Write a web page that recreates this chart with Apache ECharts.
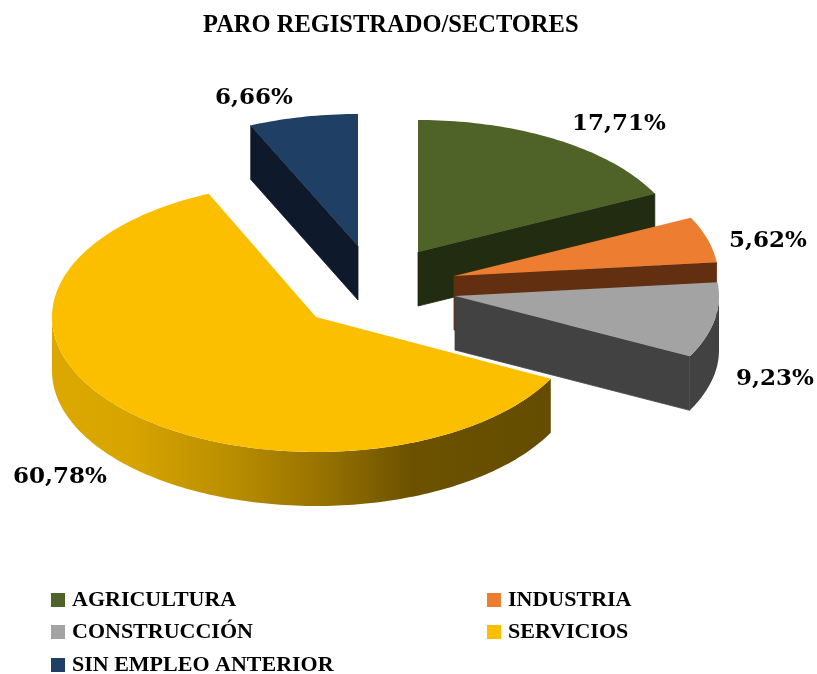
<!DOCTYPE html>
<html><head><meta charset="utf-8">
<style>html,body{margin:0;padding:0;background:#fff}#c{width:817px;height:674px}</style>
<script src="https://cdn.jsdelivr.net/npm/echarts@6/dist/echarts.min.js"></script>
</head><body><div id="c"></div>
<script>
var chartTitle = 'PARO REGISTRADO/SECTORES';
var categories = ['AGRICULTURA','INDUSTRIA','CONSTRUCCIÓN','SERVICIOS','SIN EMPLEO ANTERIOR'];
var values = [17.71, 5.62, 9.23, 60.78, 6.66];

var topColors = ['#4f6228','#ed7d31','#a3a3a3','#fbbf00','#203f64'];
var faceColors = ['#212c11','#622f10','#424242','#6a5000','#0e1a2b'];
var apexX = [418, 454, 455, 316, 358];
var apexY = [252, 276, 296, 317, 246];
var radiusX = 264, radiusY = [132, 132, 132, 135, 132], depth = 54;
var labelX = [619, 768, 775, 60, 254];
var labelY = [124, 241, 379, 477, 98];
var drawOrder = [1, 2, 3, 4, 0];
var legendPos = [[51,589],[487,589],[51,621],[487,621],[51,654]];
var FONT = '"Liberation Serif"';
var LABEL_FONT = '"DejaVu Serif"';

var total = values.reduce(function(a,b){return a+b;},0);
var starts = [], acc = 0;
values.forEach(function(v){ starts.push(acc); acc += v; });
function rad(v){ return v/total*2*Math.PI; }

function pt(i, t, dy){
  return [apexX[i] + radiusX*Math.sin(t), apexY[i] - radiusY[i]*Math.cos(t) + (dy||0)];
}
function arc(i, a, b, dy){
  var pts = [], n = Math.max(2, Math.ceil(Math.abs(b-a)/0.02));
  for (var k=0;k<=n;k++) pts.push(pt(i, a+(b-a)*k/n, dy));
  return pts;
}
function renderSlice(i){
  var a = rad(starts[i]), b = rad(starts[i]+values[i]);
  var kids = [];
  var ax = apexX[i], ay = apexY[i];
  var facePts = null;
  if (Math.sin(b) > 0 && b < Math.PI*0.9) {
    var e = pt(i,b);
    facePts = [[ax,ay],e,[e[0],e[1]+depth],[ax,ay+depth]];
  } else if (a > Math.PI*1.5 && (b-a) < Math.PI/2) {
    var s = pt(i,a);
    facePts = [[ax,ay],s,[s[0],s[1]+depth],[ax,ay+depth]];
  }
  var wa = Math.max(a, Math.PI/2), wb = Math.min(b, Math.PI*1.5);
  if (wb > wa) {
    var wall = arc(i,wa,wb,0).concat(arc(i,wb,wa,depth));
    var fill = faceColors[i];
    if (i === 3) {
      fill = new echarts.graphic.LinearGradient(0,0,1,0,[
        {offset:0,color:'#dca800'},{offset:0.15,color:'#d8a500'},{offset:0.35,color:'#bb8f00'},
        {offset:0.55,color:'#957100'},{offset:0.72,color:'#6c5200'},{offset:1,color:'#644c00'}]);
    }
    kids.push({type:'polygon',shape:{points:wall},style:{fill:fill}});
  }
  if (facePts) kids.push({type:'polygon',shape:{points:facePts},style:{fill:faceColors[i],stroke:faceColors[i],lineWidth:0.8}});
  kids.push({type:'polygon',shape:{points:[[ax,ay]].concat(arc(i,a,b,0))},style:{fill:topColors[i]}});
  return {type:'group',children:kids};
}

var series = categories.map(function(name,i){
  return {
    name:name, type:'custom', coordinateSystem:'none', silent:true,
    z: 2 + drawOrder[i],
    itemStyle:{color:topColors[i]},
    data:[[values[i]]],
    renderItem:function(){ return renderSlice(i); }
  };
});
series.push({
  name:'labels', type:'custom', coordinateSystem:'none', silent:true, z:20,
  data: values.map(function(v,i){return [v,i];}),
  renderItem:function(p,api){
    var i = api.value(1);
    return {type:'text',style:{
      x:labelX[i],y:labelY[i],text:values[i].toFixed(2).replace('.',',')+'%',
      fill:'#000',align:'center',verticalAlign:'middle',
      font:'bold 23px '+LABEL_FONT}};
  }
});

var legends = categories.map(function(name,i){
  return {
    left:legendPos[i][0], top:legendPos[i][1], data:[name], selectedMode:false,
    icon:'rect', itemWidth:14, itemHeight:14, padding:0,
    textStyle:{fontFamily:FONT,fontWeight:'bold',fontSize:22,color:'#000',padding:[0,0,0,2]}
  };
});

var chart = echarts.init(document.getElementById('c'),null,{renderer:'canvas'});
chart.setOption({
  animation:false,
  backgroundColor:'#fff',
  title:{text:chartTitle,left:203,top:13,padding:0,
    textStyle:{fontFamily:FONT,fontWeight:'bold',fontSize:24.5,color:'#000'}},
  legend:legends,
  series:series
});
</script></body></html>
